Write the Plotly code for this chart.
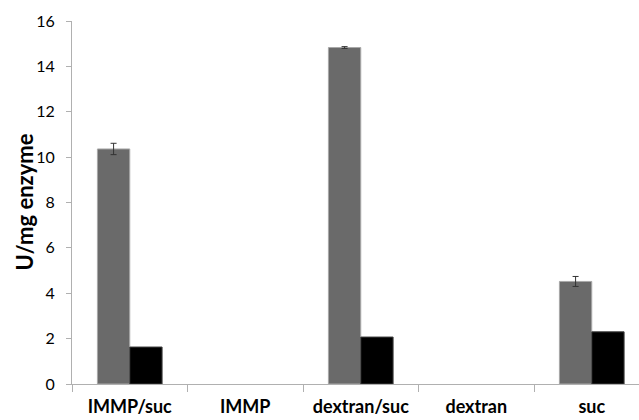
import plotly.graph_objects as go

categories = ["IMMP/suc", "IMMP", "dextran/suc", "dextran", "suc"]
gray_values = [10.36, None, 14.83, None, 4.52]
gray_errors = [0.25, 0, 0.04, 0, 0.22]
black_values = [1.63, None, 2.07, None, 2.30]
y_ticks = [0, 2, 4, 6, 8, 10, 12, 14, 16]
y_title = "U/mg enzyme"

fig = go.Figure()
fig.add_trace(go.Bar(
    x=categories, y=gray_values,
    marker=dict(color="#6a6a6a", line=dict(color="#a8a8a8", width=1)),
    error_y=dict(type="data", array=gray_errors, color="#333333", thickness=1, width=3),
    showlegend=False,
))
fig.add_trace(go.Bar(
    x=categories, y=black_values,
    marker=dict(color="#000000", line=dict(color="#404040", width=1)),
    showlegend=False,
))
fig.update_layout(
    width=639, height=420,
    margin=dict(l=72, r=0, t=21, b=36),
    plot_bgcolor="white", paper_bgcolor="white",
    barmode="group", bargap=0.44, bargroupgap=0,
    font=dict(family="Lato, Open Sans, sans-serif", color="#000000"),
    xaxis=dict(
        range=[-0.5, 4.409], showline=True, linecolor="#b0b0b0", linewidth=1,
        ticks="outside", tickson="boundaries", ticklen=7, tickcolor="#b0b0b0",
        tickfont=dict(size=18, family="Lato, Open Sans, sans-serif", weight="bold"),
        ticklabelstandoff=6,
        showgrid=False,
    ),
    yaxis=dict(
        range=[0, 16], tickvals=y_ticks, showline=True, linecolor="#b0b0b0", linewidth=1,
        ticks="outside", ticklen=5, tickcolor="#b0b0b0", showgrid=False, zeroline=False,
        tickfont=dict(size=16), ticklabelstandoff=8,
    ),
    annotations=[dict(
        text=y_title, textangle=-90, showarrow=False,
        xref="paper", yref="paper", x=-48 / 567, y=0.5,
        xanchor="center", yanchor="middle",
        font=dict(size=22, weight="bold"),
    )],
)
fig.write_html("out.html")
